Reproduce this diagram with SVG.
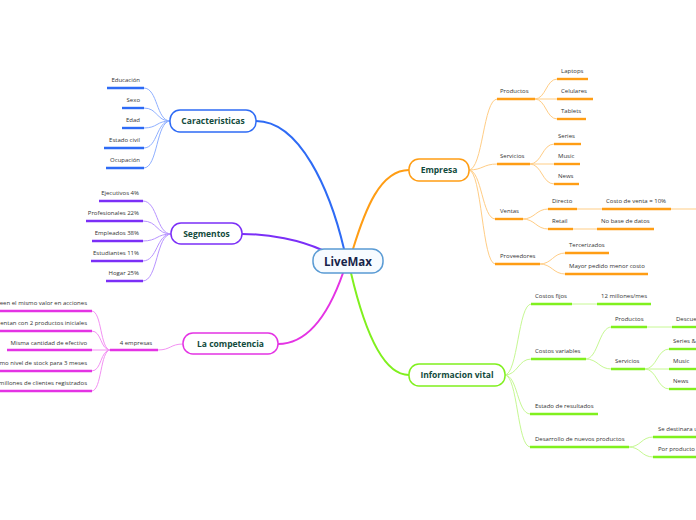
<svg xmlns="http://www.w3.org/2000/svg" width="696" height="520" viewBox="0 0 696 520">
<style>
.bg{fill:#ffffff}
.t{font-family:"Open Sans","Noto Sans","Liberation Sans",sans-serif;font-size:6px;fill:#333333}
.te{text-anchor:end}
.tm{text-anchor:middle}
.nl{font-family:"Open Sans","Noto Sans","Liberation Sans",sans-serif;font-size:8.5px;font-weight:bold;fill:#124b3c;text-anchor:middle}
.root{font-family:"Open Sans","Noto Sans","Liberation Sans",sans-serif;font-size:11.5px;font-weight:bold;fill:#16244a;text-anchor:middle}
.c{fill:none;stroke-linecap:round}
.bar{stroke-width:2.4;stroke-linecap:butt}
.blue{stroke:#2e6bf5}.blueL{stroke:#8fb0ff}
.pur{stroke:#7b2ff7}.purL{stroke:#b893ff}
.mag{stroke:#e433e4}.magL{stroke:#f391f3}
.ora{stroke:#ff9d14}.oraL{stroke:#ffcd85}
.lim{stroke:#80f01e}.limL{stroke:#c6f893}
.node{fill:#ffffff;stroke-width:1.5}
</style>
<rect class="bg" x="0" y="0" width="696" height="520"/>
<g id="connectors">
  <!-- main branches -->
  <path class="c blue" stroke-width="2" d="M344,249 C330,190 300,121 256,121"/>
  <path class="c pur" stroke-width="2" d="M322,250 C300,240 270,234 242,234"/>
  <path class="c mag" stroke-width="2" d="M343,273 C330,310 310,344 278,344"/>
  <path class="c ora" stroke-width="2" d="M353,249 C365,210 380,170 409,170"/>
  <path class="c lim" stroke-width="2" d="M351,273 C362,320 380,375 409,375"/>
  <!-- Caracteristicas -->
  <g class="c blueL" stroke-width="1">
    <path d="M170,121 C156,121 158,88 144,88"/>
    <path d="M170,121 C156,121 158,108 144,108"/>
    <path d="M170,121 C156,121 158,128 144,128"/>
    <path d="M170,121 C156,121 158,148 144,148"/>
    <path d="M170,121 C156,121 158,168 144,168"/>
  </g>
  <!-- Segmentos -->
  <g class="c purL" stroke-width="1">
    <path d="M171,234 C156,234 158,201 143,201"/>
    <path d="M171,234 C156,234 158,221 143,221"/>
    <path d="M171,234 C156,234 158,241 143,241"/>
    <path d="M171,234 C156,234 158,261 143,261"/>
    <path d="M171,234 C156,234 158,281 143,281"/>
  </g>
  <!-- La competencia -->
  <g class="c magL" stroke-width="1">
    <path d="M183,344 C170,344 171,350 158,350"/>
    <path d="M110,350 C100,350 102,311 92,311"/>
    <path d="M110,350 C100,350 102,331 92,331"/>
    <path d="M110,350 L92,350"/>
    <path d="M110,350 C100,350 102,371 92,371"/>
    <path d="M110,350 C100,350 102,391 92,391"/>
  </g>
  <!-- Empresa -->
  <g class="c oraL" stroke-width="1">
    <path d="M469,170 C483,170 483,99 497,99"/>
    <path d="M469,170 C483,170 483,164 497,164"/>
    <path d="M469,170 C482,170 482,219 495,219"/>
    <path d="M469,170 C482,170 482,264 495,264"/>
    <path d="M535,99 C546,99 546,79 557,79"/>
    <path d="M535,99 L557,99"/>
    <path d="M535,99 C546,99 546,119 557,119"/>
    <path d="M530,164 C542,164 542,144 554,144"/>
    <path d="M530,164 L554,164"/>
    <path d="M530,164 C542,164 542,184 554,184"/>
    <path d="M523,219 C535,219 536,209 548,209"/>
    <path d="M523,219 C535,219 536,229 548,229"/>
    <path d="M540,264 C552,264 553,253 565,253"/>
    <path d="M540,264 C552,264 553,274 565,274"/>
    <path d="M577,209 L602,209"/>
    <path d="M671,209 L700,209"/>
    <path d="M573,229 L597,229"/>
  </g>
  <!-- Informacion vital -->
  <g class="c limL" stroke-width="1">
    <path d="M505,375 C518,375 518,304 531,304"/>
    <path d="M505,375 C518,375 518,359 531,359"/>
    <path d="M505,375 C518,375 517,414 530,414"/>
    <path d="M505,375 C518,375 517,447 530,447"/>
    <path d="M572,304 L597,304"/>
    <path d="M586,359 C598,359 599,327 611,327"/>
    <path d="M586,359 C598,359 599,369 611,369"/>
    <path d="M647,327 L672,327"/>
    <path d="M645,369 C657,369 657,349 669,349"/>
    <path d="M645,369 L669,369"/>
    <path d="M645,369 C657,369 657,389 669,389"/>
    <path d="M629,447 C641,447 641,437 653,437"/>
    <path d="M629,447 C641,447 641,457 653,457"/>
  </g>
</g>
<g id="livemax">
  <rect x="313" y="249" width="70" height="24" rx="11" fill="#f7fbff" stroke="#5a9bd4" stroke-width="1.5"/>
  <text class="root" x="348" y="266">LiveMax</text>
</g>
<g id="caracteristicas">
  <rect class="node blue" x="170" y="110" width="86" height="22" rx="10"/>
  <text class="nl" x="213" y="124">Caracteristicas</text>
  <line class="bar blue" x1="107" y1="88" x2="144" y2="88"/><text class="t te" x="140" y="82">Educación</text>
  <line class="bar blue" x1="122" y1="108" x2="144" y2="108"/><text class="t te" x="140" y="102">Sexo</text>
  <line class="bar blue" x1="122" y1="128" x2="144" y2="128"/><text class="t te" x="140" y="122">Edad</text>
  <line class="bar blue" x1="104" y1="148" x2="144" y2="148"/><text class="t te" x="140" y="142">Estado civil</text>
  <line class="bar blue" x1="106" y1="168" x2="144" y2="168"/><text class="t te" x="140" y="162">Ocupación</text>
</g>
<g id="segmentos">
  <rect class="node pur" x="171" y="223" width="71" height="21" rx="10"/>
  <text class="nl" x="206.5" y="237">Segmentos</text>
  <line class="bar pur" x1="99" y1="201" x2="143" y2="201"/><text class="t te" x="139" y="195">Ejecutivos 4%</text>
  <line class="bar pur" x1="86" y1="221" x2="143" y2="221"/><text class="t te" x="139" y="215">Profesionales 22%</text>
  <line class="bar pur" x1="92" y1="241" x2="143" y2="241"/><text class="t te" x="139" y="235">Empleados 38%</text>
  <line class="bar pur" x1="91" y1="261" x2="143" y2="261"/><text class="t te" x="139" y="255">Estudiantes 11%</text>
  <line class="bar pur" x1="106" y1="281" x2="143" y2="281"/><text class="t te" x="139" y="275">Hogar 25%</text>
</g>
<g id="competencia">
  <rect class="node mag" x="183" y="333" width="95" height="21" rx="10"/>
  <text class="nl" x="230.5" y="347">La competencia</text>
  <line class="bar mag" x1="110" y1="350" x2="158" y2="350"/><text class="t tm" x="136" y="345">4 empresas</text>
  <line class="bar mag" x1="0" y1="311" x2="92" y2="311"/><text class="t te" x="87" y="305">een el mismo valor en acciones</text>
  <line class="bar mag" x1="0" y1="331" x2="92" y2="331"/><text class="t te" x="87" y="325">entan con 2 productos iniciales</text>
  <line class="bar mag" x1="7" y1="350" x2="92" y2="350"/><text class="t te" x="87" y="345">Misma cantidad de efectivo</text>
  <line class="bar mag" x1="0" y1="371" x2="92" y2="371"/><text class="t te" x="87" y="365">mo nivel de stock para 3 meses</text>
  <line class="bar mag" x1="0" y1="391" x2="92" y2="391"/><text class="t te" x="87" y="385">millones de clientes registrados</text>
</g>
<g id="empresa">
  <rect class="node ora" x="409" y="159" width="60" height="22" rx="10"/>
  <text class="nl" x="439" y="173">Empresa</text>
  <line class="bar ora" x1="497" y1="99" x2="535" y2="99"/><text class="t" x="500" y="93">Productos</text>
  <line class="bar ora" x1="557" y1="79" x2="588" y2="79"/><text class="t" x="561" y="73">Laptops</text>
  <line class="bar ora" x1="557" y1="99" x2="593" y2="99"/><text class="t" x="561" y="93">Celulares</text>
  <line class="bar ora" x1="557" y1="119" x2="586" y2="119"/><text class="t" x="561" y="113">Tablets</text>
  <line class="bar ora" x1="497" y1="164" x2="530" y2="164"/><text class="t" x="500" y="158">Servicios</text>
  <line class="bar ora" x1="554" y1="144" x2="581" y2="144"/><text class="t" x="558" y="138">Series</text>
  <line class="bar ora" x1="554" y1="164" x2="580" y2="164"/><text class="t" x="558" y="158">Music</text>
  <line class="bar ora" x1="554" y1="184" x2="579" y2="184"/><text class="t" x="558" y="178">News</text>
  <line class="bar ora" x1="495" y1="219" x2="523" y2="219"/><text class="t" x="500" y="213">Ventas</text>
  <line class="bar ora" x1="548" y1="209" x2="577" y2="209"/><text class="t" x="552" y="203">Directo</text>
  <line class="bar ora" x1="602" y1="209" x2="671" y2="209"/><text class="t" x="606" y="203">Costo de venta = 10%</text>
  <line class="bar ora" x1="548" y1="229" x2="573" y2="229"/><text class="t" x="552" y="223">Retail</text>
  <line class="bar ora" x1="597" y1="229" x2="654" y2="229"/><text class="t" x="601" y="223">No base de datos</text>
  <line class="bar ora" x1="495" y1="264" x2="540" y2="264"/><text class="t" x="500" y="258">Proveedores</text>
  <line class="bar ora" x1="565" y1="253" x2="609" y2="253"/><text class="t" x="569" y="247">Tercerizados</text>
  <line class="bar ora" x1="565" y1="274" x2="648" y2="274"/><text class="t" x="569" y="268">Mayor pedido menor costo</text>
</g>
<g id="informacion-vital">
  <rect class="node lim" x="409" y="364" width="96" height="22" rx="10"/>
  <text class="nl" x="457" y="378">Informacion vital</text>
  <line class="bar lim" x1="531" y1="304" x2="572" y2="304"/><text class="t" x="535" y="298">Costos fijos</text>
  <line class="bar lim" x1="597" y1="304" x2="651" y2="304"/><text class="t" x="601" y="298">12 millones/mes</text>
  <line class="bar lim" x1="531" y1="359" x2="586" y2="359"/><text class="t" x="535" y="353">Costos variables</text>
  <line class="bar lim" x1="611" y1="327" x2="647" y2="327"/><text class="t" x="615" y="321">Productos</text>
  <line class="bar lim" x1="672" y1="327" x2="700" y2="327"/><text class="t" x="676" y="321">Descue</text>
  <line class="bar lim" x1="611" y1="369" x2="645" y2="369"/><text class="t" x="615" y="363">Servicios</text>
  <line class="bar lim" x1="669" y1="349" x2="700" y2="349"/><text class="t" x="673" y="343">Series &amp;</text>
  <line class="bar lim" x1="669" y1="369" x2="700" y2="369"/><text class="t" x="673" y="363">Music</text>
  <line class="bar lim" x1="669" y1="389" x2="700" y2="389"/><text class="t" x="673" y="383">News</text>
  <line class="bar lim" x1="530" y1="414" x2="598" y2="414"/><text class="t" x="535" y="408">Estado de resultados</text>
  <line class="bar lim" x1="530" y1="447" x2="629" y2="447"/><text class="t" x="535" y="441">Desarrollo de nuevos productos</text>
  <line class="bar lim" x1="653" y1="437" x2="700" y2="437"/><text class="t" x="658" y="431">Se destinara u</text>
  <line class="bar lim" x1="653" y1="457" x2="700" y2="457"/><text class="t" x="658" y="451">Por producto n</text>
</g>
</svg>
